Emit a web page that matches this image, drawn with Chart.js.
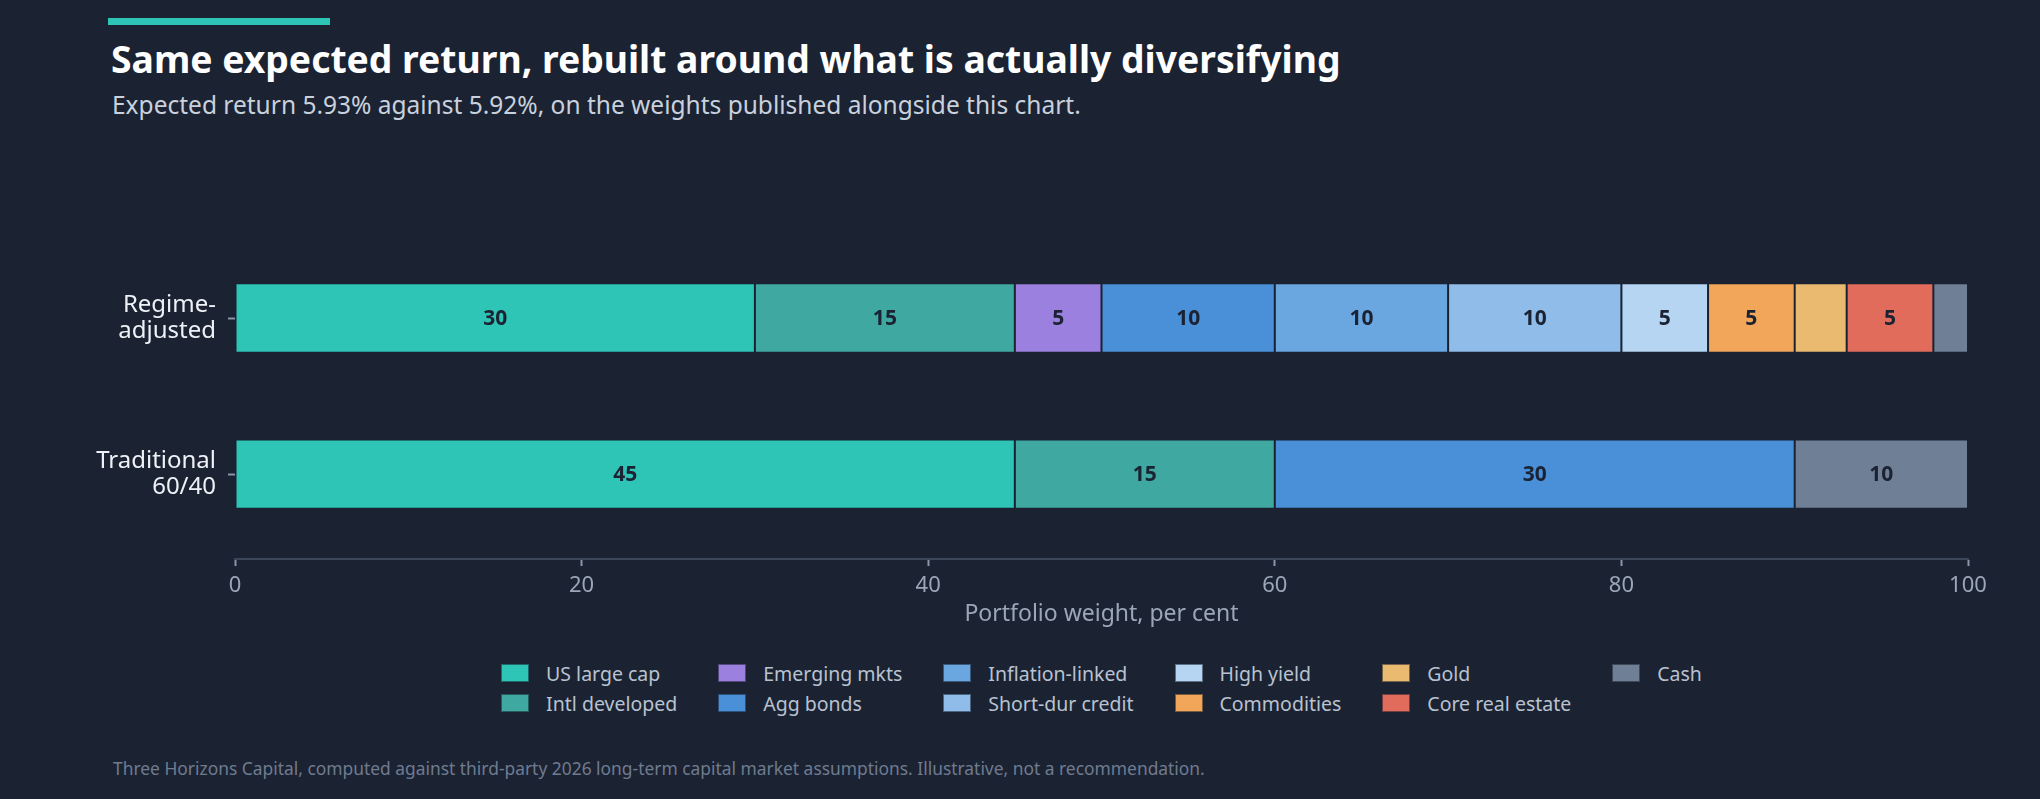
<!DOCTYPE html>
<html>
<head>
<meta charset="utf-8">
<script src="https://cdn.jsdelivr.net/npm/chart.js@4.4.1/dist/chart.umd.min.js"></script>
<style>
  html, body { margin: 0; padding: 0; }
  body {
    width: 2040px; height: 799px; position: relative; overflow: hidden;
    background: #1b2333; font-family: "Noto Sans", sans-serif;
  }
  .accent { position: absolute; left: 108px; top: 18px; width: 222px; height: 7px; background: #2ec4b6; }
  h1 {
    position: absolute; left: 111px; top: 34px; margin: 0;
    font-size: 37.3px; line-height: 50px; font-weight: 700; color: #ffffff; white-space: nowrap;
  }
  .sub {
    position: absolute; left: 112px; top: 88px; margin: 0;
    font-size: 24.5px; line-height: 34px; color: #c9d1dd; white-space: nowrap;
  }
  #chart { position: absolute; left: 0; top: 200px; }
  #legend {
    position: absolute; left: 235px; top: 658px; width: 1733px;
    display: grid; grid-template-rows: repeat(2, 30px); grid-auto-flow: column;
    justify-content: center; column-gap: 41px;
  }
  .item { display: flex; align-items: center; font-size: 19.5px; color: #b8c2d0; white-space: nowrap; }
  .swatch { width: 28px; height: 18px; margin-right: 17px; box-sizing: border-box; border: 1px solid rgba(20,27,40,0.55); }
  .foot {
    position: absolute; left: 113px; top: 756px; margin: 0;
    font-size: 17.4px; line-height: 24px; color: #6f7b8f; white-space: nowrap;
  }
</style>
</head>
<body>
<div class="accent"></div>
<h1>Same expected return, rebuilt around what is actually diversifying</h1>
<p class="sub">Expected return 5.93% against 5.92%, on the weights published alongside this chart.</p>
<canvas id="chart" width="2040" height="440"></canvas>
<div id="legend"></div>
<p class="foot">Three Horizons Capital, computed against third-party 2026 long-term capital market assumptions. Illustrative, not a recommendation.</p>

<script>
// portfolios, top to bottom
const portfolios = [['Regime-', 'adjusted'], ['Traditional', '60/40']];

// asset classes in stacking order
const assets = ['US large cap', 'Intl developed', 'Emerging mkts', 'Agg bonds', 'Inflation-linked',
  'Short-dur credit', 'High yield', 'Commodities', 'Gold', 'Core real estate', 'Cash'];
const assetColors = ['#2ec4b6', '#3fa8a0', '#9b80df', '#4a90d9', '#6aa6e0',
  '#8fbce9', '#b5d5f2', '#f2a65a', '#e9ba6f', '#e26c5b', '#6f7f96'];

// weights in per cent, same order as assets
const regimeWeights = [30, 15, 5, 10, 10, 10, 5, 5, 3, 5, 2];
const traditionalWeights = [45, 15, 0, 30, 0, 0, 0, 0, 0, 0, 10];

const xTicks = [0, 20, 40, 60, 80, 100];

const bg = '#1b2333';
Chart.defaults.font.family = '"Noto Sans", sans-serif';

const datasets = assets.map((name, i) => ({
  label: name,
  backgroundColor: assetColors[i],
  borderColor: bg,
  borderWidth: 1,
  borderSkipped: false,
  barPercentage: 0.555,
  categoryPercentage: 0.8,
  data: [regimeWeights[i], traditionalWeights[i]]
    .map((v, row) => ({ x: v, y: row }))
    .filter(p => p.x > 0)
}));

// value written in the middle of each wide enough segment
const segmentLabels = {
  id: 'segmentLabels',
  afterDatasetsDraw(chart) {
    const ctx = chart.ctx;
    ctx.save();
    ctx.font = 'bold 21px "Noto Sans"';
    ctx.fillStyle = bg;
    ctx.textAlign = 'center';
    ctx.textBaseline = 'middle';
    chart.data.datasets.forEach((ds, i) => {
      chart.getDatasetMeta(i).data.forEach((bar, j) => {
        const v = ds.data[j].x;
        if (v < 5) return;
        const c = bar.getCenterPoint();
        ctx.fillText(String(v), c.x, c.y + 1);
      });
    });
    ctx.restore();
  }
};

new Chart(document.getElementById('chart'), {
  type: 'bar',
  data: { datasets: datasets },
  plugins: [segmentLabels],
  options: {
    indexAxis: 'y',
    responsive: false,
    animation: false,
    layout: { padding: { top: 40, right: 72, bottom: 16, left: 0 } },
    plugins: { legend: { display: false }, tooltip: { enabled: false } },
    scales: {
      x: {
        type: 'linear',
        stacked: true,
        min: 0,
        max: 100,
        afterBuildTicks: s => { s.ticks = xTicks.map(v => ({ value: v })); },
        grid: { drawOnChartArea: false, tickLength: 7, tickColor: '#8a94a6', tickWidth: 2 },
        border: { color: '#3b4658', width: 2 },
        ticks: { color: '#9ba6b8', font: { size: 22 }, padding: 6 },
        title: {
          display: true, text: 'Portfolio weight, per cent',
          color: '#9ba6b8', font: { size: 23, lineHeight: 0.85 }, padding: { top: 0, bottom: 0 }
        }
      },
      y: {
        type: 'linear',
        stacked: true,
        reverse: true,
        offset: false,
        min: -0.5,
        max: 1.545,
        afterBuildTicks: s => { s.ticks = portfolios.map((_, i) => ({ value: i })); },
        afterFit: s => { s.width = 235; },
        grid: { offset: false, drawOnChartArea: false, tickLength: 7, tickColor: '#8a94a6', tickWidth: 2 },
        border: { display: false },
        ticks: {
          color: '#eef2f7', font: { size: 24, lineHeight: 1.07 }, padding: 12,
          callback: v => portfolios[v]
        }
      }
    }
  }
});

// html legend, filled column by column like the original
const legend = document.getElementById('legend');
assets.forEach((name, i) => {
  const item = document.createElement('div');
  item.className = 'item';
  const sw = document.createElement('span');
  sw.className = 'swatch';
  sw.style.background = assetColors[i];
  item.appendChild(sw);
  item.appendChild(document.createTextNode(name));
  legend.appendChild(item);
});
</script>
</body>
</html>
